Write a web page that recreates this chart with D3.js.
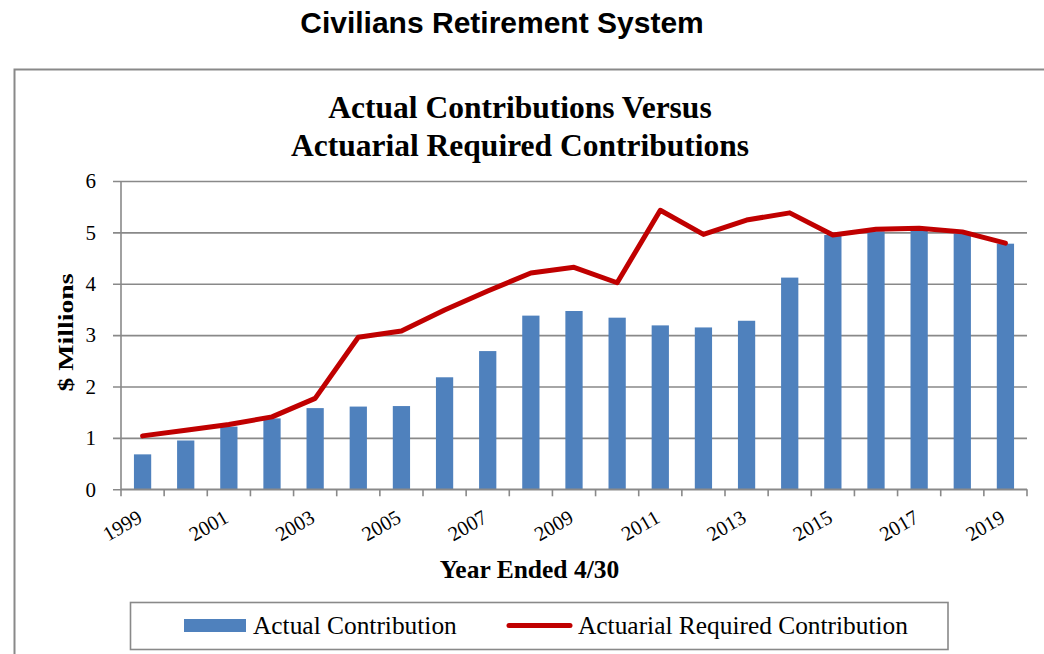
<!DOCTYPE html>
<html>
<head>
<meta charset="utf-8">
<script src="https://cdn.jsdelivr.net/npm/d3@7"></script>
<style>
  body { margin: 0; background: #fff; }
  svg { display: block; }
</style>
</head>
<body>
<svg id="chart" width="1044" height="654"></svg>
<script>
var years = ["1999", "2000", "2001", "2002", "2003", "2004", "2005", "2006", "2007", "2008", "2009",
    "2010", "2011", "2012", "2013", "2014", "2015", "2016", "2017", "2018", "2019"];
var actualContribution = [0.68, 0.95, 1.22, 1.38, 1.58, 1.61, 1.62, 2.18, 2.69, 3.38, 3.47,
    3.34, 3.19, 3.15, 3.28, 4.12, 4.95, 5.02, 5.03, 4.98, 4.78];
var requiredContribution = [1.04, 1.15, 1.26, 1.41, 1.77, 2.96, 3.08, 3.49, 3.86, 4.21, 4.32,
    4.02, 5.43, 4.96, 5.24, 5.38, 4.95, 5.06, 5.08, 5.01, 4.79];
var yTicks = [0, 1, 2, 3, 4, 5, 6];
var xLabels = ["1999", "2001", "2003", "2005", "2007", "2009", "2011", "2013", "2015", "2017", "2019"];

var SERIF = "'Liberation Serif', 'Times New Roman', serif";
var SANS = "'Liberation Sans', Arial, sans-serif";
var GRID = "#898989";
var BAR_COLOR = "#4F81BD";
var LINE_COLOR = "#C00000";

var svg = d3.select("#chart");

var plot = { left: 121, right: 1027, top: 181, bottom: 489.3 };

// page title above the chart frame
svg.append("text")
    .attr("x", 502).attr("y", 33)
    .attr("text-anchor", "middle")
    .style("font-family", SANS).style("font-weight", "bold").style("font-size", "30px")
    .text("Civilians Retirement System");

// chart frame (runs off the right and bottom of the picture)
svg.append("rect")
    .attr("x", 14.5).attr("y", 69.5)
    .attr("width", 1100).attr("height", 700)
    .attr("fill", "none").attr("stroke", GRID).attr("stroke-width", 2);

var chartTitle = svg.append("text")
    .attr("text-anchor", "middle")
    .style("font-family", SERIF).style("font-weight", "bold").style("font-size", "31.5px");
chartTitle.append("tspan").attr("x", 520).attr("y", 118).text("Actual Contributions Versus");
chartTitle.append("tspan").attr("x", 520).attr("y", 156).text("Actuarial Required Contributions");

var x = d3.scaleBand()
    .domain(years)
    .range([plot.left, plot.right])
    .paddingInner(0.6)
    .paddingOuter(0.3);

var y = d3.scaleLinear()
    .domain([0, 6])
    .range([plot.bottom, plot.top]);

// horizontal gridlines + y axis
var yAxis = svg.append("g")
    .attr("transform", "translate(" + plot.left + ",0)")
    .call(d3.axisLeft(y).tickValues(yTicks).tickFormat(d3.format("d"))
        .tickSize(-(plot.right - plot.left)).tickPadding(25));
yAxis.select(".domain").remove();
yAxis.selectAll(".tick line")
    .attr("x1", -8)
    .attr("stroke", GRID).attr("stroke-width", 1.6);
yAxis.selectAll(".tick text")
    .style("font-family", SERIF).style("font-size", "21px").attr("fill", "#000");

svg.append("line")
    .attr("x1", plot.left).attr("x2", plot.left)
    .attr("y1", plot.top).attr("y2", plot.bottom)
    .attr("stroke", GRID).attr("stroke-width", 1.6);

// bars
svg.append("g").selectAll("rect")
    .data(years)
    .enter().append("rect")
    .attr("x", (d) => x(d))
    .attr("width", x.bandwidth())
    .attr("y", (d, i) => y(actualContribution[i]))
    .attr("height", (d, i) => y(0) - y(actualContribution[i]))
    .attr("fill", BAR_COLOR);

// x axis: ticks at category boundaries, labels on every other year
var step = x.step();
var xAxis = svg.append("g");
xAxis.append("line")
    .attr("x1", plot.left).attr("x2", plot.right)
    .attr("y1", plot.bottom).attr("y2", plot.bottom)
    .attr("stroke", GRID).attr("stroke-width", 1.6);
xAxis.selectAll(".xtick")
    .data(d3.range(years.length + 1))
    .enter().append("line")
    .attr("x1", (i) => plot.left + i * step).attr("x2", (i) => plot.left + i * step)
    .attr("y1", plot.bottom).attr("y2", plot.bottom + 7)
    .attr("stroke", GRID).attr("stroke-width", 1.6);
xAxis.selectAll(".xlabel")
    .data(xLabels)
    .enter().append("text")
    .attr("text-anchor", "end")
    .attr("transform", (d) => "translate(" + (x(d) + x.bandwidth() / 2 + 1) + "," + (plot.bottom + 32) + ") rotate(-30)")
    .style("font-family", SERIF).style("font-size", "20.5px")
    .text((d) => d);

// actuarial required line
var line = d3.line()
    .x((d, i) => x(years[i]) + x.bandwidth() / 2)
    .y((d) => y(d));
svg.append("path")
    .datum(requiredContribution)
    .attr("d", line)
    .attr("fill", "none")
    .attr("stroke", LINE_COLOR).attr("stroke-width", 5)
    .attr("stroke-linejoin", "round").attr("stroke-linecap", "round");

// axis titles
svg.append("text")
    .attr("transform", "translate(73,332.5) rotate(-90)")
    .attr("text-anchor", "middle")
    .attr("textLength", 118).attr("lengthAdjust", "spacingAndGlyphs")
    .style("font-family", SERIF).style("font-weight", "bold").style("font-size", "20px")
    .text("$ Millions");

svg.append("text")
    .attr("x", 529.5).attr("y", 578)
    .attr("text-anchor", "middle")
    .style("font-family", SERIF).style("font-weight", "bold").style("font-size", "25.5px")
    .text("Year Ended 4/30");

// legend
var legend = svg.append("g");
legend.append("rect")
    .attr("x", 130.5).attr("y", 602.5)
    .attr("width", 817.5).attr("height", 47)
    .attr("fill", "none").attr("stroke", GRID).attr("stroke-width", 1.6);
legend.append("rect")
    .attr("x", 184).attr("y", 619)
    .attr("width", 62).attr("height", 13)
    .attr("fill", BAR_COLOR);
legend.append("text")
    .attr("x", 253).attr("y", 634)
    .style("font-family", SERIF).style("font-size", "25.4px")
    .text("Actual Contribution");
legend.append("line")
    .attr("x1", 509).attr("x2", 570)
    .attr("y1", 625.5).attr("y2", 625.5)
    .attr("stroke", LINE_COLOR).attr("stroke-width", 5).attr("stroke-linecap", "round");
legend.append("text")
    .attr("x", 578).attr("y", 634)
    .style("font-family", SERIF).style("font-size", "25.4px")
    .text("Actuarial Required Contribution");
</script>
</body>
</html>
